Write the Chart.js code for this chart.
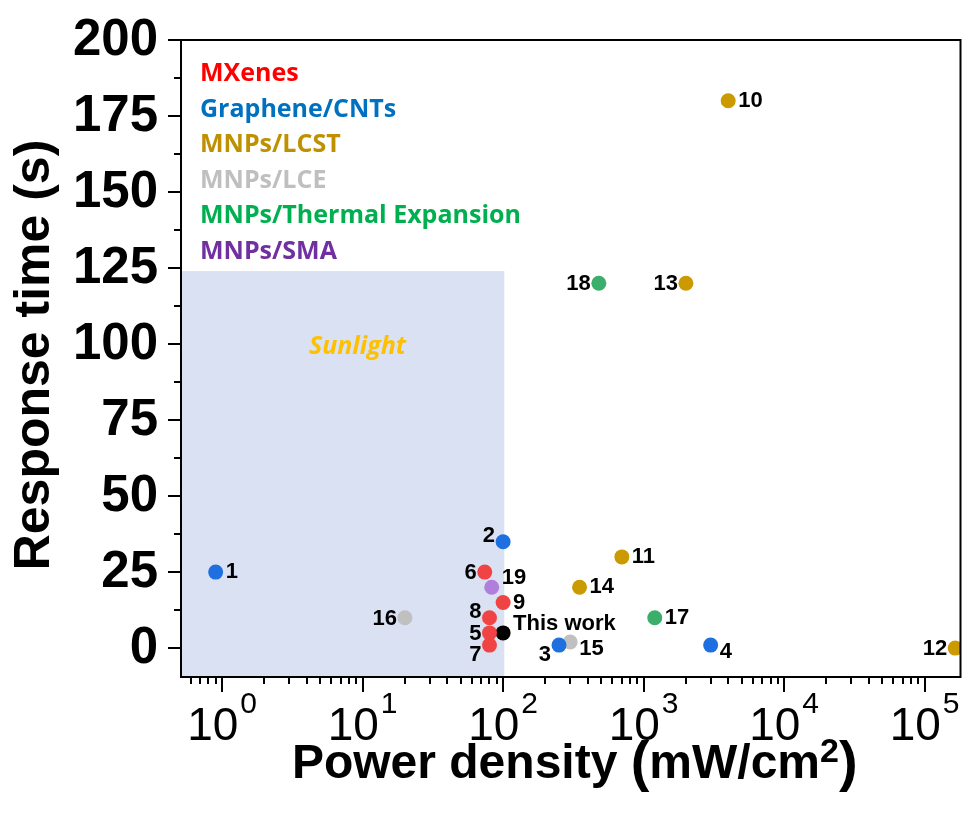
<!DOCTYPE html>
<html>
<head>
<meta charset="utf-8">
<script src="https://cdn.jsdelivr.net/npm/chart.js@4/dist/chart.umd.min.js"></script>
<style>
html,body{margin:0;padding:0;background:#fff;}
canvas{display:block;}
</style>
</head>
<body>
<canvas id="c" width="968" height="814"></canvas>
<script>
// ---------- DATA ----------
const categories = ['MXenes', 'Graphene/CNTs', 'MNPs/LCST', 'MNPs/LCE', 'MNPs/Thermal Expansion', 'MNPs/SMA', 'This work'];

const mxenesIds = ['5', '6', '7', '8', '9'];
const mxenesX   = [80, 74, 80, 80, 100];
const mxenesY   = [5, 25, 1, 10, 15];

const grapheneIds = ['1', '2', '3', '4'];
const grapheneX   = [0.9, 100, 250, 3000];
const grapheneY   = [25, 35, 1, 1];

const lcstIds = ['10', '11', '12', '13', '14'];
const lcstX   = [4000, 700, 165000, 2000, 350];
const lcstY   = [180, 30, 0, 120, 20];

const lceIds = ['15', '16'];
const lceX   = [300, 20];
const lceY   = [2, 10];

const thermalIds = ['17', '18'];
const thermalX   = [1200, 480];
const thermalY   = [10, 120];

const smaIds = ['19'];
const smaX   = [83];
const smaY   = [20];

const thisWorkIds = ['This work'];
const thisWorkX   = [100];
const thisWorkY   = [5];

const yTickValues = [0, 25, 50, 75, 100, 125, 150, 175, 200];
const xTickExponents = [0, 1, 2, 3, 4, 5];

const sunlightXMax = 102;   // mW/cm2
const sunlightYMax = 124;   // s
const sunlightLabel = 'Sunlight';

// ---------- STYLE ----------
const pointColors  = ['#F04444', '#1E6FDF', '#CB9A00', '#C0C0C0', '#3AAF6B', '#B07EDC', '#000000'];
const legendColors = ['#FF0000', '#0070C0', '#BF9000', '#BFBFBF', '#00B050', '#7030A0'];
// label side codes: r right, l left, ru right-up, rd right-down, ld left-down, lu left-up
const labelSides = {
  '1':'r','2':'lu','3':'ld','4':'rd','5':'l','6':'l','7':'ld','8':'lu','9':'r',
  '10':'r','11':'r','12':'l','13':'l','14':'r','15':'rd','16':'l','17':'r','18':'l','19':'ru',
  'This work':'ru'
};

const seriesX = [mxenesX, grapheneX, lcstX, lceX, thermalX, smaX, thisWorkX];
const seriesY = [mxenesY, grapheneY, lcstY, lceY, thermalY, smaY, thisWorkY];
const seriesIds = [mxenesIds, grapheneIds, lcstIds, lceIds, thermalIds, smaIds, thisWorkIds];

const datasets = categories.map((name, i) => ({
  label: name,
  data: seriesX[i].map((x, j) => ({x: x, y: seriesY[i][j], id: seriesIds[i][j]})),
  backgroundColor: pointColors[i],
  borderWidth: 0,
  pointRadius: 7.5,
  pointHoverRadius: 7.5
}));

const AX = 'Liberation Sans, Arial, sans-serif';
const CAL = '"Open Sans", "Noto Sans", sans-serif';

const custom = {
  id: 'custom',
  beforeDatasetsDraw(chart) {
    const {ctx, scales: {x, y}, chartArea: a} = chart;
    ctx.save();
    const xr = x.getPixelForValue(sunlightXMax);
    const yt = y.getPixelForValue(sunlightYMax);
    ctx.fillStyle = '#D9E1F2';
    ctx.fillRect(a.left, yt, xr - a.left, a.bottom - yt);
    ctx.fillStyle = '#FFC000';
    ctx.font = 'italic bold 25px ' + CAL;
    ctx.textAlign = 'center';
    ctx.textBaseline = 'middle';
    ctx.fillText(sunlightLabel, x.getPixelForValue(9.2), y.getPixelForValue(99));
    ctx.restore();
  },
  afterDatasetsDraw(chart) {
    const {ctx} = chart;
    ctx.save();
    ctx.fillStyle = '#000';
    ctx.font = 'bold 22px ' + AX;
    ctx.textBaseline = 'middle';
    chart.data.datasets.forEach((ds, di) => {
      const meta = chart.getDatasetMeta(di);
      meta.data.forEach((pt, j) => {
        const id = ds.data[j].id;
        const side = labelSides[id] || 'r';
        let dx = 0, dy = 0, align = 'left';
        if (side === 'r')  { dx = 10; dy = 0; align = 'left'; }
        if (side === 'ru') { dx = 10; dy = -9; align = 'left'; }
        if (side === 'rd') { dx = 9;  dy = 7; align = 'left'; }
        if (side === 'l')  { dx = -8; dy = 1; align = 'right'; }
        if (side === 'lu') { dx = -8; dy = -6; align = 'right'; }
        if (side === 'ld') { dx = -8; dy = 10; align = 'right'; }
        ctx.textAlign = align;
        ctx.fillText(id, pt.x + dx, pt.y + dy);
      });
    });
    ctx.restore();
  },
  afterDraw(chart) {
    const {ctx, scales: {x, y}, chartArea: a} = chart;
    ctx.save();
    // frame
    ctx.strokeStyle = '#000';
    ctx.lineWidth = 2;
    ctx.strokeRect(a.left, a.top, a.right - a.left, a.bottom - a.top);
    // y ticks
    ctx.lineWidth = 2;
    ctx.beginPath();
    for (let i = 0; i < yTickValues.length; i++) {
      const py = Math.round(y.getPixelForValue(yTickValues[i]));
      ctx.moveTo(a.left - 13, py); ctx.lineTo(a.left, py);
      if (i < yTickValues.length - 1) {
        const pm = Math.round(y.getPixelForValue((yTickValues[i] + yTickValues[i + 1]) / 2));
        ctx.moveTo(a.left - 7, pm); ctx.lineTo(a.left, pm);
      }
    }
    // x ticks
    const e0 = Math.floor(Math.log10(x.min));
    const e1 = Math.ceil(Math.log10(x.max));
    for (let e = e0; e <= e1; e++) {
      for (let m = 1; m <= 9; m++) {
        const v = m * Math.pow(10, e);
        if (v < x.min || v > x.max) continue;
        const px = Math.round(x.getPixelForValue(v));
        ctx.moveTo(px, a.bottom);
        ctx.lineTo(px, a.bottom + (m === 1 ? 15 : 7));
      }
    }
    ctx.stroke();
    // y tick labels
    ctx.fillStyle = '#000';
    ctx.font = 'bold 51px ' + AX;
    ctx.textAlign = 'right';
    ctx.textBaseline = 'middle';
    yTickValues.forEach(v => ctx.fillText(String(v), a.left - 23, y.getPixelForValue(v) + 1));
    // x tick labels 10^n
    xTickExponents.forEach(n => {
      const px = x.getPixelForValue(Math.pow(10, n));
      ctx.font = '46px ' + AX;
      const w1 = ctx.measureText('10').width;
      ctx.font = '30px ' + AX;
      const w2 = ctx.measureText(String(n)).width;
      const start = px - (w1 + 2 + w2) / 2;
      ctx.textAlign = 'left';
      ctx.textBaseline = 'alphabetic';
      ctx.font = '46px ' + AX;
      ctx.fillText('10', start, 740);
      ctx.font = '30px ' + AX;
      ctx.fillText(String(n), start + w1 + 2, 713);
    });
    // x title
    const parts = [
      {t: 'Power density ', f: 'bold 48px ' + AX, dy: 0},
      {t: '(', f: 'bold 56px ' + AX, dy: 2},
      {t: 'mW/cm', f: 'bold 48px ' + AX, dy: 0},
      {t: '2', f: 'bold 34px ' + AX, dy: -16},
      {t: ')', f: 'bold 56px ' + AX, dy: 2}
    ];
    let tw = 0;
    parts.forEach(p => { ctx.font = p.f; p.w = ctx.measureText(p.t).width; tw += p.w; });
    let cx = (a.left + a.right) / 2 - tw / 2 + 4;
    ctx.textAlign = 'left';
    ctx.textBaseline = 'alphabetic';
    parts.forEach(p => { ctx.font = p.f; ctx.fillText(p.t, cx, 778 + p.dy); cx += p.w; });
    // y title
    ctx.save();
    ctx.translate(35, 355);
    ctx.rotate(-Math.PI / 2);
    ctx.font = 'bold 50px ' + AX;
    ctx.textAlign = 'center';
    ctx.textBaseline = 'middle';
    ctx.fillText('Response time (s)', 0, 0);
    ctx.restore();
    // legend text
    ctx.font = 'bold 25px ' + CAL;
    ctx.textAlign = 'left';
    ctx.textBaseline = 'alphabetic';
    for (let i = 0; i < legendColors.length; i++) {
      ctx.fillStyle = legendColors[i];
      ctx.fillText(categories[i], a.left + 19, a.top + 41 + i * 35.5);
    }
    ctx.restore();
  }
};

new Chart(document.getElementById('c'), {
  type: 'scatter',
  data: {datasets},
  plugins: [custom],
  options: {
    responsive: false,
    devicePixelRatio: 1,
    animation: false,
    layout: {padding: {left: 0, top: 40, right: 5, bottom: 0}},
    plugins: {legend: {display: false}, tooltip: {enabled: false}},
    scales: {
      x: {
        type: 'logarithmic', min: 0.51, max: 180000,
        grid: {display: false}, border: {display: false},
        ticks: {display: false},
        afterFit: s => { s.height = 137; }
      },
      y: {
        type: 'linear', min: -9.5, max: 200,
        grid: {display: false}, border: {display: false},
        ticks: {display: false},
        afterFit: s => { s.width = 181; }
      }
    }
  }
});
</script>
</body>
</html>
